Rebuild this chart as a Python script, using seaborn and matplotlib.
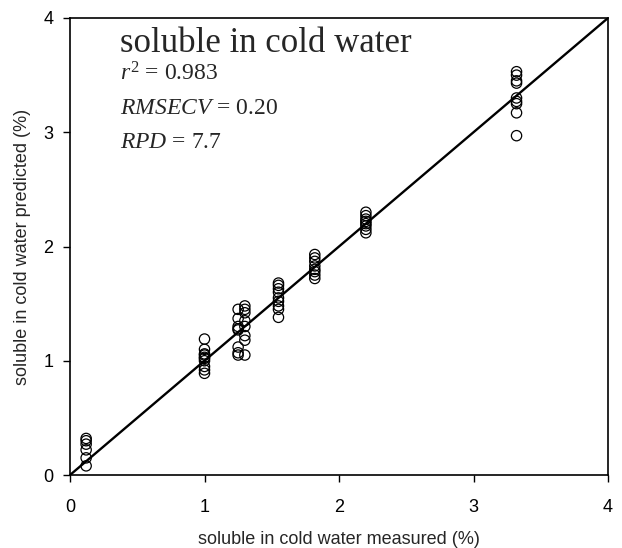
import numpy as np
import pandas as pd
import matplotlib
matplotlib.use("Agg")
import matplotlib.pyplot as plt
import seaborn as sns

measured_levels = [0.12, 1.0, 1.25, 1.30, 1.55, 1.82, 2.20, 3.32]
pred_012 = [0.32, 0.30, 0.27, 0.22, 0.15, 0.08]
pred_100 = [1.19, 1.10, 1.06, 1.05, 1.03, 1.02, 1.00, 0.95, 0.92, 0.89]
pred_125 = [1.45, 1.37, 1.30, 1.28, 1.27, 1.12, 1.07, 1.05]
pred_130 = [1.48, 1.45, 1.42, 1.35, 1.30, 1.22, 1.18, 1.05]
pred_155 = [1.68, 1.66, 1.63, 1.60, 1.55, 1.52, 1.48, 1.45, 1.38]
pred_182 = [1.93, 1.90, 1.87, 1.83, 1.80, 1.78, 1.75, 1.72]
pred_220 = [2.30, 2.27, 2.24, 2.22, 2.20, 2.18, 2.15, 2.12]
pred_332 = [3.53, 3.50, 3.45, 3.43, 3.30, 3.27, 3.25, 3.17, 2.97]
preds = [pred_012, pred_100, pred_125, pred_130, pred_155, pred_182, pred_220, pred_332]
ticks = [0, 1, 2, 3, 4]

rows = []
for m, p in zip(measured_levels, preds):
    for v in p:
        rows.append((m, v))
df = pd.DataFrame(rows, columns=["measured", "predicted"])

sns.set_style("ticks")
plt.rcParams['font.family'] = ['Arial', 'Liberation Sans', 'DejaVu Sans']
plt.rcParams['mathtext.fontset'] = 'custom'
plt.rcParams['mathtext.rm'] = 'Liberation Serif'
plt.rcParams['mathtext.it'] = 'Liberation Serif:italic'
plt.rcParams['mathtext.bf'] = 'Liberation Serif:bold'

fig = plt.figure(figsize=(6.22, 5.48), dpi=100)
ax = fig.add_axes([70/622, 1-475/548, 538/622, 457/548])

ax.plot([0, 4], [0, 4], color="black", lw=1.7, zorder=1)
sns.scatterplot(data=df, x="measured", y="predicted", ax=ax, s=55,
                facecolor="none", edgecolor="black", linewidth=0.9, zorder=2)

ax.set_xlim(0, 4)
ax.set_ylim(0, 4)
ax.set_xticks(ticks)
ax.set_yticks(ticks)
ax.set_xticklabels([str(t) for t in ticks], fontsize=13)
ax.set_yticklabels([str(t) for t in ticks], fontsize=13)
ax.tick_params(direction="out", length=5, width=1, colors="black")
ax.tick_params(axis="x", pad=12)
ax.tick_params(axis="y", pad=7)
for s in ax.spines.values():
    s.set_visible(True)
    s.set_linewidth(1.2)
    s.set_color("black")
ax.set_xlabel("soluble in cold water measured (%)", fontsize=13)
ax.set_ylabel("soluble in cold water predicted (%)", fontsize=13)
ax.xaxis.set_label_coords(0.5, -0.122)
ax.yaxis.set_label_coords(-0.072, 0.5)

serif = ['Liberation Serif', 'DejaVu Serif']
ax.text(0.093, 0.926, "soluble in cold water", transform=ax.transAxes,
        fontsize=25, family=serif, va="baseline", ha="left")
ax.text(0.093, 0.864, r"$\mathit{r}^{2}$ = 0.983", transform=ax.transAxes,
        fontsize=17, family=serif, va="baseline", ha="left")
ax.text(0.093, 0.790, r"$\mathit{RMSECV}$ = 0.20", transform=ax.transAxes,
        fontsize=17, family=serif, va="baseline", ha="left")
ax.text(0.093, 0.716, r"$\mathit{RPD}$ = 7.7", transform=ax.transAxes,
        fontsize=17, family=serif, va="baseline", ha="left")

fig.savefig("out.png", dpi=100)
